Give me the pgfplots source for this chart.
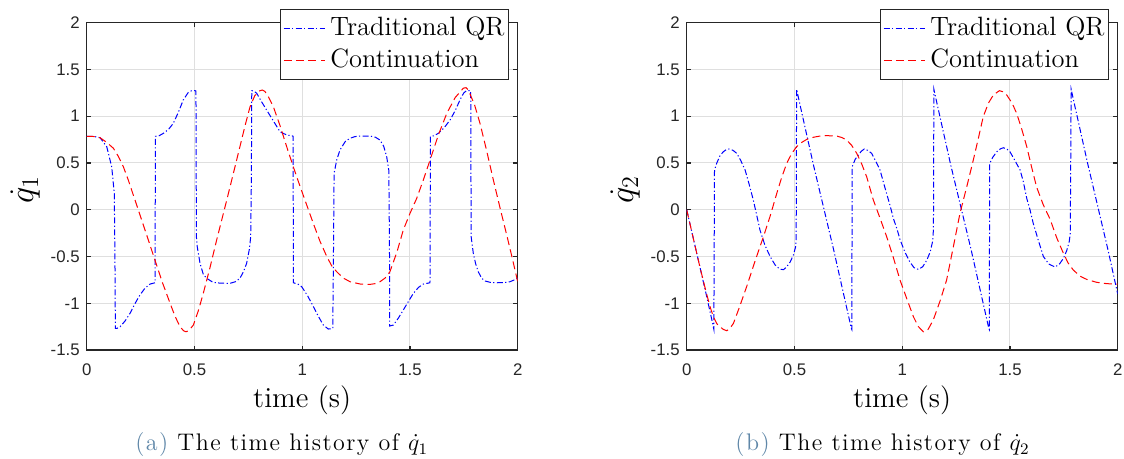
\documentclass[border=0pt]{standalone}
\usepackage{fontspec}
\usepackage{pgfplots}
\pgfplotsset{compat=1.18}
\newfontfamily\ticksf{Liberation Sans}
\newfontfamily\capfont[LetterSpace=6]{Latin Modern Roman}
\definecolor{capblue}{RGB}{95,135,168}
\definecolor{axgray}{RGB}{38,38,38}
\definecolor{gridgray}{RGB}{223,223,223}
\definecolor{mblue}{RGB}{0,0,255}
\definecolor{mred}{RGB}{255,0,0}

\pgfplotsset{
 mystyle/.style={
  width=215.5pt, height=163.65pt, scale only axis,
  xmin=0,xmax=2,ymin=-1.5,ymax=2,
  xtick={0,0.5,1,1.5,2}, ytick={-1.5,-1,-0.5,0,0.5,1,1.5,2},
  grid=major, major grid style={gridgray, line width=0.5pt},
  axis line style={axgray, line width=0.6pt},
  tick align=inside, major tick length=2.2pt, tick style={axgray, line width=0.6pt},
  tick label style={font=\fontsize{8.4}{10}\ticksf, text=axgray},
  /pgf/number format/assume math mode=true,
  xticklabel style={yshift=-3.5pt},
  xlabel style={font=\fontsize{14.5}{16}\selectfont, at={(axis description cs:0.5,0)}, anchor=base, yshift=-29pt},
  ylabel style={font=\fontsize{18}{20}\selectfont, at={(axis description cs:-0.143,0.49)}, anchor=center},
  legend style={at={(axis description cs:0.98,1.041)}, anchor=north east, draw=axgray, line width=0.5pt, fill=white,
     font=\fontsize{13.25}{15}\selectfont, inner xsep=1.5pt, inner ysep=3pt, row sep=2.85pt,
     nodes={inner sep=0.5pt, text height=9.35pt, text depth=2.65pt}},
  legend cell align=left,
  /tikz/every odd column/.append style={column sep=2pt},
  legend image code/.code={\draw[##1] (0pt,0pt) -- (20.7pt,0pt);},
 },
 qr/.style={mblue, line width=0.5pt, dash pattern=on 3pt off 1.2pt on 0.6pt off 1.2pt},
 co/.style={mred, line width=0.5pt, dash pattern=on 4pt off 2.2pt},
}

\begin{document}
\begin{tikzpicture}
\path[use as bounding box] (0,0) rectangle (562pt,229.5pt);
\begin{axis}[mystyle, at={(43.35pt,54.5pt)}, anchor=south west,
  xlabel={time (s)}, ylabel={$\dot{q}_1$}]
\addplot[qr] coordinates {
(0,0.785)(0.03,0.785)(0.062,0.77)(0.093,0.674)(0.116,0.46)(0.128,0.175)(0.131,-0.5)(0.133,-1.27)
(0.14,-1.27)(0.155,-1.251)(0.178,-1.19)(0.201,-1.108)(0.225,-1.0)(0.247,-0.912)(0.27,-0.84)(0.294,-0.795)(0.317,-0.781)
(0.319,0.785)(0.335,0.79)(0.356,0.817)(0.38,0.86)(0.402,0.924)(0.425,1.04)(0.448,1.173)(0.47,1.25)(0.487,1.273)(0.503,1.273)(0.507,1.27)
(0.509,-0.289)(0.513,-0.396)(0.526,-0.574)(0.541,-0.69)(0.557,-0.734)(0.587,-0.778)(0.62,-0.785)(0.665,-0.787)(0.69,-0.77)(0.711,-0.734)(0.728,-0.66)(0.742,-0.574)(0.755,-0.42)(0.761,-0.289)(0.764,0.3)(0.766,1.273)
(0.775,1.27)(0.789,1.245)(0.81,1.16)(0.835,1.066)(0.866,0.95)(0.897,0.834)(0.928,0.799)(0.956,0.788)(0.958,0.785)
(0.959,-0.781)(0.98,-0.795)(0.998,-0.824)(1.025,-0.92)(1.052,-1.037)(1.075,-1.14)(1.098,-1.233)(1.121,-1.276)(1.142,-1.27)
(1.145,-0.5)(1.148,0.389)(1.16,0.53)(1.175,0.638)(1.2,0.73)(1.222,0.764)(1.245,0.782)(1.268,0.788)(1.315,0.788)(1.34,0.775)(1.361,0.745)(1.378,0.68)(1.392,0.567)(1.402,0.42)(1.405,-0.4)(1.406,-1.244)
(1.423,-1.233)(1.446,-1.16)(1.469,-1.073)(1.493,-0.98)(1.516,-0.894)(1.54,-0.83)(1.562,-0.795)(1.593,-0.781)
(1.595,0.785)(1.61,0.79)(1.632,0.817)(1.66,0.88)(1.686,0.959)(1.71,1.06)(1.732,1.173)(1.75,1.25)(1.763,1.273)(1.78,1.273)(1.782,1.27)
(1.784,-0.289)(1.794,-0.466)(1.805,-0.58)(1.817,-0.663)(1.832,-0.73)(1.848,-0.762)(1.875,-0.778)(1.903,-0.781)(1.935,-0.78)(1.964,-0.77)(1.985,-0.75)(2,-0.73)
};
\addlegendentry{Traditional QR}
\addplot[co] coordinates {
(0,0.785)(0.031,0.783)(0.062,0.77)(0.093,0.72)(0.124,0.657)(0.147,0.57)(0.17,0.46)(0.193,0.318)(0.224,0.104)(0.263,-0.165)(0.294,-0.38)(0.317,-0.54)(0.35,-0.77)(0.387,-1.001)(0.41,-1.14)(0.433,-1.251)(0.45,-1.295)(0.461,-1.305)(0.475,-1.29)(0.495,-1.233)(0.518,-1.08)(0.541,-0.894)(0.572,-0.62)(0.603,-0.324)(0.65,0.104)(0.673,0.318)(0.711,0.674)(0.735,0.9)(0.758,1.102)(0.78,1.22)(0.804,1.273)(0.815,1.28)(0.827,1.265)(0.845,1.2)(0.866,1.102)(0.897,0.9)(0.928,0.674)(0.96,0.45)(0.99,0.25)(1.021,0.05)(1.052,-0.15)(1.083,-0.34)(1.114,-0.5)(1.137,-0.6)(1.16,-0.663)(1.19,-0.73)(1.222,-0.77)(1.27,-0.795)(1.315,-0.798)(1.34,-0.79)(1.361,-0.77)(1.385,-0.73)(1.407,-0.663)(1.44,-0.45)(1.469,-0.217)(1.5,-0.04)(1.531,0.12)(1.562,0.318)(1.593,0.53)(1.632,0.8)(1.671,1.031)(1.71,1.2)(1.748,1.3)(1.76,1.305)(1.771,1.28)(1.8,1.12)(1.825,0.924)(1.856,0.63)(1.887,0.318)(1.918,0.02)(1.949,-0.27)(1.975,-0.52)(2,-0.77)
};
\addlegendentry{Continuation}
\end{axis}

\begin{axis}[mystyle, at={(343.35pt,54.5pt)}, anchor=south west,
  xlabel={time (s)}, ylabel={$\dot{q}_2$}]
\addplot[qr] coordinates {
(0,0)(0.03,-0.3)(0.06,-0.6)(0.09,-0.9)(0.115,-1.16)(0.126,-1.28)(0.129,0.425)
(0.139,0.496)(0.155,0.58)(0.17,0.62)(0.185,0.645)(0.198,0.649)(0.215,0.635)(0.232,0.603)(0.25,0.53)(0.271,0.425)(0.29,0.27)(0.309,0.104)(0.325,-0.06)(0.34,-0.217)(0.363,-0.38)(0.387,-0.5)(0.41,-0.59)(0.433,-0.638)(0.45,-0.64)(0.464,-0.61)(0.48,-0.56)(0.495,-0.485)(0.505,-0.4)(0.508,-0.3)
(0.51,1.288)(0.526,1.12)(0.588,0.48)(0.68,-0.41)(0.764,-1.27)(0.766,-1.28)
(0.768,0.46)(0.782,0.54)(0.797,0.585)(0.81,0.625)(0.824,0.649)(0.84,0.635)(0.858,0.603)(0.877,0.52)(0.897,0.425)(0.912,0.3)(0.928,0.17)(0.943,0.05)(0.96,-0.1)(0.975,-0.2)(0.99,-0.32)(1.012,-0.45)(1.036,-0.56)(1.055,-0.62)(1.075,-0.638)(1.095,-0.61)(1.114,-0.54)(1.13,-0.45)(1.142,-0.33)(1.145,-0.2)
(1.147,1.288)(1.163,1.12)(1.225,0.48)(1.318,-0.41)(1.402,-1.27)(1.404,-1.28)
(1.406,0.496)(1.42,0.56)(1.439,0.62)(1.455,0.65)(1.469,0.663)(1.485,0.65)(1.5,0.62)(1.522,0.53)(1.547,0.425)(1.562,0.3)(1.578,0.12)(1.593,0.0)(1.608,-0.146)(1.632,-0.33)(1.655,-0.5)(1.68,-0.58)(1.709,-0.613)(1.73,-0.58)(1.748,-0.52)(1.763,-0.44)(1.775,-0.342)(1.78,-0.25)
(1.784,1.288)(1.8,1.12)(1.862,0.48)(1.955,-0.43)(1.995,-0.85)(2,-0.9)
};
\addlegendentry{Traditional QR}
\addplot[co] coordinates {
(0,0)(0.03,-0.3)(0.06,-0.6)(0.09,-0.88)(0.11,-1.05)(0.124,-1.144)(0.14,-1.22)(0.155,-1.251)(0.17,-1.28)(0.186,-1.294)(0.2,-1.27)(0.217,-1.215)(0.245,-1.04)(0.278,-0.824)(0.317,-0.55)(0.356,-0.289)(0.387,-0.07)(0.418,0.175)(0.44,0.34)(0.464,0.496)(0.487,0.6)(0.51,0.674)(0.534,0.72)(0.557,0.752)(0.588,0.775)(0.619,0.788)(0.65,0.792)(0.696,0.788)(0.72,0.772)(0.742,0.745)(0.765,0.69)(0.789,0.603)(0.812,0.49)(0.835,0.353)(0.866,0.104)(0.897,-0.09)(0.928,-0.289)(0.96,-0.52)(0.99,-0.753)(1.021,-0.95)(1.052,-1.144)(1.075,-1.25)(1.098,-1.305)(1.12,-1.28)(1.144,-1.18)(1.175,-0.98)(1.206,-0.753)(1.237,-0.4)(1.268,-0.039)(1.3,0.25)(1.33,0.532)(1.355,0.78)(1.376,0.995)(1.4,1.14)(1.423,1.227)(1.451,1.273)(1.47,1.26)(1.485,1.227)(1.51,1.14)(1.531,1.031)(1.555,0.86)(1.578,0.674)(1.6,0.46)(1.624,0.24)(1.655,0.05)(1.686,-0.1)(1.717,-0.3)(1.748,-0.466)(1.77,-0.57)(1.794,-0.645)(1.825,-0.71)(1.856,-0.745)(1.9,-0.775)(1.933,-0.787)(1.965,-0.793)(2,-0.795)
};
\addlegendentry{Continuation}
\end{axis}

\node[anchor=base, font=\capfont\fontsize{12}{14}\selectfont] at (140.85pt,4pt) {\textcolor{capblue}{(a)} The time history of $\dot{q}_1$};
\node[anchor=base, font=\capfont\fontsize{12}{14}\selectfont] at (441.25pt,4pt) {\textcolor{capblue}{(b)} The time history of $\dot{q}_2$};
\end{tikzpicture}
\end{document}
